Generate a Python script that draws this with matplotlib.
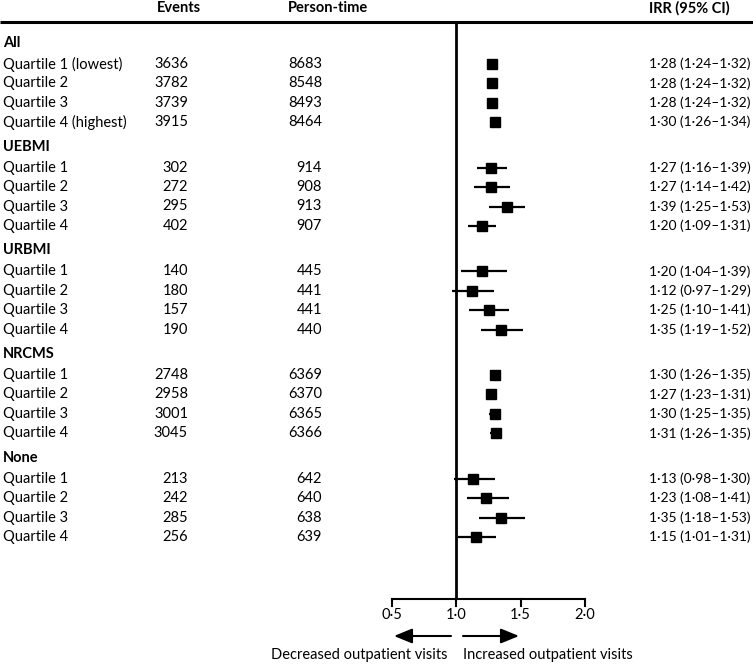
import matplotlib
matplotlib.use("Agg")
import matplotlib.pyplot as plt

plt.rcParams['font.family'] = ['Lato', 'DejaVu Sans']

groups = ["All", "UEBMI", "URBMI", "NRCMS", "None"]
row_labels = [
    ["Quartile 1 (lowest)", "Quartile 2", "Quartile 3", "Quartile 4 (highest)"],
    ["Quartile 1", "Quartile 2", "Quartile 3", "Quartile 4"],
    ["Quartile 1", "Quartile 2", "Quartile 3", "Quartile 4"],
    ["Quartile 1", "Quartile 2", "Quartile 3", "Quartile 4"],
    ["Quartile 1", "Quartile 2", "Quartile 3", "Quartile 4"],
]
events = [
    [3636, 3782, 3739, 3915],
    [302, 272, 295, 402],
    [140, 180, 157, 190],
    [2748, 2958, 3001, 3045],
    [213, 242, 285, 256],
]
person_time = [
    [8683, 8548, 8493, 8464],
    [914, 908, 913, 907],
    [445, 441, 441, 440],
    [6369, 6370, 6365, 6366],
    [642, 640, 638, 639],
]
irr = [
    [1.28, 1.28, 1.28, 1.30],
    [1.27, 1.27, 1.39, 1.20],
    [1.20, 1.12, 1.25, 1.35],
    [1.30, 1.27, 1.30, 1.31],
    [1.13, 1.23, 1.35, 1.15],
]
ci_low = [
    [1.24, 1.24, 1.24, 1.26],
    [1.16, 1.14, 1.25, 1.09],
    [1.04, 0.97, 1.10, 1.19],
    [1.26, 1.23, 1.25, 1.26],
    [0.98, 1.08, 1.18, 1.01],
]
ci_high = [
    [1.32, 1.32, 1.32, 1.34],
    [1.39, 1.42, 1.53, 1.31],
    [1.39, 1.29, 1.41, 1.52],
    [1.35, 1.31, 1.35, 1.35],
    [1.30, 1.41, 1.53, 1.31],
]
xticks = [0.5, 1.0, 1.5, 2.0]
xtick_labels = ["0·5", "1·0", "1·5", "2·0"]

W, H = 753, 664
fig = plt.figure(figsize=(W / 100, H / 100), dpi=100)

# text axes in pixel coordinates
tax = fig.add_axes([0, 0, 1, 1])
tax.set_xlim(0, W)
tax.set_ylim(H, 0)
tax.axis('off')

# forest axes: 0.5 -> x=392px, 2.0 -> x=585px
ppu = (585 - 392) / 1.5
fax = fig.add_axes([0, 0, 1, 1], facecolor='none')
fax.set_xlim(0.5 - 392 / ppu, 2.0 + (W - 585) / ppu)
fax.set_ylim(H, 0)
fax.axis('off')

fs = 10.5
fs_irr = 9.9
def fmt(v):
    return f"{v:.2f}".replace(".", "·")

# header
tax.text(179, 8, "Events", ha='center', va='center', fontsize=fs, fontweight='bold')
tax.text(288, 8, "Person-time", ha='left', va='center', fontsize=fs, fontweight='bold')
tax.text(649, 8, "IRR (95% CI)", ha='left', va='center', fontsize=fs, fontweight='bold')
tax.plot([0, W], [22, 22], color='black', lw=2.2, solid_capstyle='butt')

y = 43.0
for g, name in enumerate(groups):
    tax.text(3, y, name, ha='left', va='center', fontsize=fs, fontweight='bold')
    y += 21.0
    for i in range(4):
        tax.text(3, y, row_labels[g][i], ha='left', va='center', fontsize=fs)
        tax.text(188, y, str(events[g][i]), ha='right', va='center', fontsize=fs)
        tax.text(322, y, str(person_time[g][i]), ha='right', va='center', fontsize=fs)
        tax.text(649, y, f"{fmt(irr[g][i])} ({fmt(ci_low[g][i])}–{fmt(ci_high[g][i])})",
                 ha='left', va='center', fontsize=fs_irr)
        fax.plot([ci_low[g][i], ci_high[g][i]], [y, y], color='black', lw=1.6,
                 solid_capstyle='butt', zorder=2)
        fax.plot([irr[g][i]], [y], marker='s', ms=7.5, color='black', zorder=3)
        if i < 3:
            y += 19.4
    y += 24.5

axis_y = 599
fax.plot([1.0, 1.0], [22, axis_y], color='black', lw=2.0, solid_capstyle='butt')
fax.plot([0.5, 2.0], [axis_y, axis_y], color='black', lw=1.5, solid_capstyle='projecting')
for t, lab in zip(xticks, xtick_labels):
    fax.plot([t, t], [axis_y, axis_y + 7], color='black', lw=1.5)
    fax.text(t, 615, lab, ha='center', va='center', fontsize=fs)

# arrows
tax.annotate("", xy=(394, 636), xytext=(451, 636),
             arrowprops=dict(arrowstyle='-|>,head_length=1.1,head_width=0.45', color='black', lw=1.5,
                             shrinkA=0, shrinkB=0))
tax.annotate("", xy=(519, 636), xytext=(463, 636),
             arrowprops=dict(arrowstyle='-|>,head_length=1.1,head_width=0.45', color='black', lw=1.5,
                             shrinkA=0, shrinkB=0))
tax.text(448, 655, "Decreased outpatient visits", ha='right', va='center', fontsize=fs)
tax.text(463, 655, "Increased outpatient visits", ha='left', va='center', fontsize=fs)

fig.savefig("out.png", dpi=100)
